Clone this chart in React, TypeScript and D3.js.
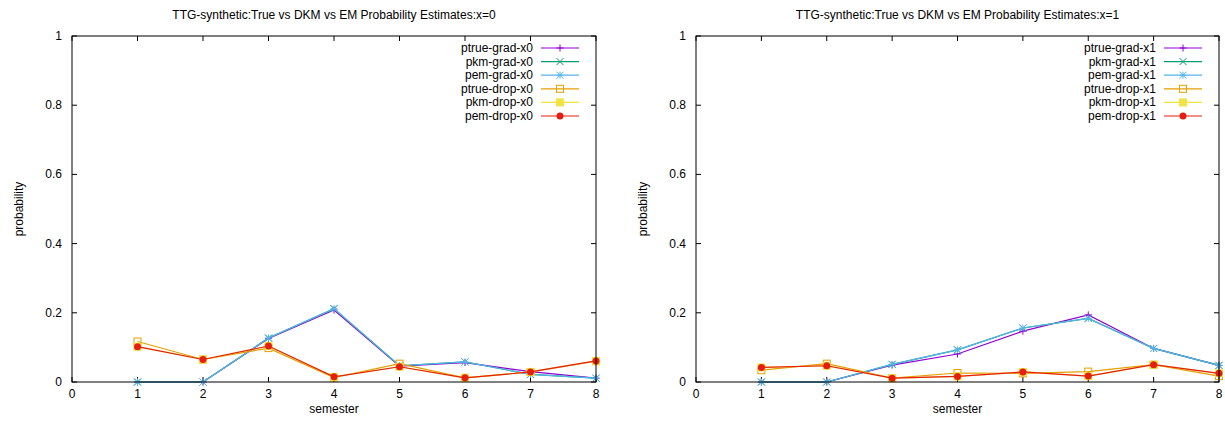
import React from "react";
import * as d3 from "d3";

const semesters = [1, 2, 3, 4, 5, 6, 7, 8];
const xTicks = [0, 1, 2, 3, 4, 5, 6, 7, 8];
const yTicks = [0, 0.2, 0.4, 0.6, 0.8, 1];
const yTickLabels = ["0", "0.2", "0.4", "0.6", "0.8", "1"];

// x = 0
const ptrueGradX0 = [0, 0, 0.126, 0.208, 0.046, 0.056, 0.03, 0.011];
const pkmGradX0 = [0, 0, 0.127, 0.212, 0.047, 0.058, 0.022, 0.011];
const pemGradX0 = [0, 0, 0.127, 0.212, 0.047, 0.058, 0.022, 0.011];
const ptrueDropX0 = [0.117, 0.065, 0.098, 0.013, 0.053, 0.012, 0.029, 0.06];
const pkmDropX0 = [0.102, 0.065, 0.104, 0.015, 0.044, 0.012, 0.029, 0.061];
const pemDropX0 = [0.102, 0.065, 0.104, 0.015, 0.044, 0.012, 0.029, 0.061];

// x = 1
const ptrueGradX1 = [0, 0, 0.049, 0.081, 0.147, 0.194, 0.097, 0.048];
const pkmGradX1 = [0, 0, 0.051, 0.093, 0.156, 0.184, 0.097, 0.048];
const pemGradX1 = [0, 0, 0.051, 0.093, 0.156, 0.184, 0.097, 0.048];
const ptrueDropX1 = [0.034, 0.053, 0.011, 0.026, 0.025, 0.03, 0.05, 0.017];
const pkmDropX1 = [0.042, 0.047, 0.011, 0.016, 0.029, 0.017, 0.05, 0.025];
const pemDropX1 = [0.042, 0.047, 0.011, 0.016, 0.029, 0.017, 0.05, 0.025];

const seriesNames = ["ptrue-grad", "pkm-grad", "pem-grad", "ptrue-drop", "pkm-drop", "pem-drop"];
const seriesColors = ["#9400D3", "#009E73", "#56B4E9", "#E69F00", "#F0E442", "#E51E10"];
const seriesPoints = ["plus", "cross", "star", "openSquare", "filledSquare", "filledCircle"];

const panels = [
  {
    title: "TTG-synthetic:True vs DKM vs EM Probability Estimates:x=0",
    suffix: "x0",
    data: [ptrueGradX0, pkmGradX0, pemGradX0, ptrueDropX0, pkmDropX0, pemDropX0],
    left: 72,
    right: 596,
  },
  {
    title: "TTG-synthetic:True vs DKM vs EM Probability Estimates:x=1",
    suffix: "x1",
    data: [ptrueGradX1, pkmGradX1, pemGradX1, ptrueDropX1, pkmDropX1, pemDropX1],
    left: 696,
    right: 1219,
  },
];

const TOP = 36;
const BOTTOM = 382;
const FONT = "Liberation Sans, Arial, sans-serif";

function Marker({ type, x, y, color }: { type: string; x: number; y: number; color: string }) {
  const s = 3.5;
  if (type === "plus")
    return <path d={`M${x - s},${y}H${x + s}M${x},${y - s}V${y + s}`} stroke={color} strokeWidth={1} />;
  if (type === "cross")
    return <path d={`M${x - s},${y - s}L${x + s},${y + s}M${x - s},${y + s}L${x + s},${y - s}`} stroke={color} strokeWidth={1} />;
  if (type === "star")
    return (
      <path
        d={`M${x - s},${y}H${x + s}M${x},${y - s}V${y + s}M${x - s},${y - s}L${x + s},${y + s}M${x - s},${y + s}L${x + s},${y - s}`}
        stroke={color}
        strokeWidth={1}
      />
    );
  if (type === "openSquare")
    return <rect x={x - s} y={y - s} width={2 * s} height={2 * s} fill="none" stroke={color} strokeWidth={1} />;
  if (type === "filledSquare")
    return <rect x={x - s} y={y - s} width={2 * s} height={2 * s} fill={color} stroke={color} strokeWidth={1} />;
  return <circle cx={x} cy={y} r={s} fill={color} />;
}

function Panel({ p }: { p: (typeof panels)[number] }) {
  const x = d3.scaleLinear().domain([0, 8]).range([p.left, p.right]);
  const y = d3.scaleLinear().domain([0, 1]).range([BOTTOM, TOP]);
  const line = d3
    .line<number>()
    .x((_, i) => x(semesters[i]))
    .y((d) => y(d));
  const cx = (p.left + p.right) / 2;
  const tick = 5;
  const legendTextX = p.right - 63;
  const legendLineX0 = p.right - 55;
  const legendLineX1 = p.right - 17;
  return (
    <g>
      <text x={cx} y={19} textAnchor="middle" fontSize={12} fontFamily={FONT} fill="#000">
        {p.title}
      </text>
      {/* ticks */}
      {xTicks.map((t) => (
        <g key={"x" + t}>
          <line x1={x(t)} x2={x(t)} y1={BOTTOM} y2={BOTTOM - tick} stroke="#000" />
          <line x1={x(t)} x2={x(t)} y1={TOP} y2={TOP + tick} stroke="#000" />
          <text x={x(t)} y={398} textAnchor="middle" fontSize={12} fontFamily={FONT}>
            {t}
          </text>
        </g>
      ))}
      {yTicks.map((t, i) => (
        <g key={"y" + t}>
          <line x1={p.left} x2={p.left + tick} y1={y(t)} y2={y(t)} stroke="#000" />
          <line x1={p.right} x2={p.right - tick} y1={y(t)} y2={y(t)} stroke="#000" />
          <text x={p.left - 10} y={y(t) + 4} textAnchor="end" fontSize={12} fontFamily={FONT}>
            {yTickLabels[i]}
          </text>
        </g>
      ))}
      <text x={cx} y={413} textAnchor="middle" fontSize={12} fontFamily={FONT}>
        semester
      </text>
      <text
        transform={`translate(${p.left - 49},${(TOP + BOTTOM) / 2}) rotate(-90)`}
        textAnchor="middle"
        fontSize={12}
        fontFamily={FONT}
      >
        probability
      </text>
      {/* series */}
      {p.data.map((vals, si) => (
        <g key={"s" + si}>
          <path d={line(vals) || ""} fill="none" stroke={seriesColors[si]} strokeWidth={1.2} />
          {vals.map((v, i) => (
            <Marker key={i} type={seriesPoints[si]} x={x(semesters[i])} y={y(v)} color={seriesColors[si]} />
          ))}
        </g>
      ))}
      {/* legend */}
      {seriesNames.map((n, si) => {
        const ly = 48 + si * 13.6;
        return (
          <g key={"l" + si}>
            <text x={legendTextX} y={ly + 4} textAnchor="end" fontSize={12} fontFamily={FONT}>
              {`${n}-${p.suffix}`}
            </text>
            <line x1={legendLineX0} x2={legendLineX1} y1={ly} y2={ly} stroke={seriesColors[si]} strokeWidth={1.2} />
            <Marker type={seriesPoints[si]} x={(legendLineX0 + legendLineX1) / 2} y={ly} color={seriesColors[si]} />
          </g>
        );
      })}
      <rect x={p.left} y={TOP} width={p.right - p.left} height={BOTTOM - TOP} fill="none" stroke="#000" strokeWidth={1} />
    </g>
  );
}

export default function App() {
  return (
    <svg
      width={1225}
      height={421}
      style={{ position: "absolute", left: 0, top: 0, background: "#fff" }}
      shapeRendering="auto"
    >
      <rect width={1225} height={421} fill="#fff" />
      {panels.map((p, i) => (
        <Panel key={i} p={p} />
      ))}
    </svg>
  );
}
